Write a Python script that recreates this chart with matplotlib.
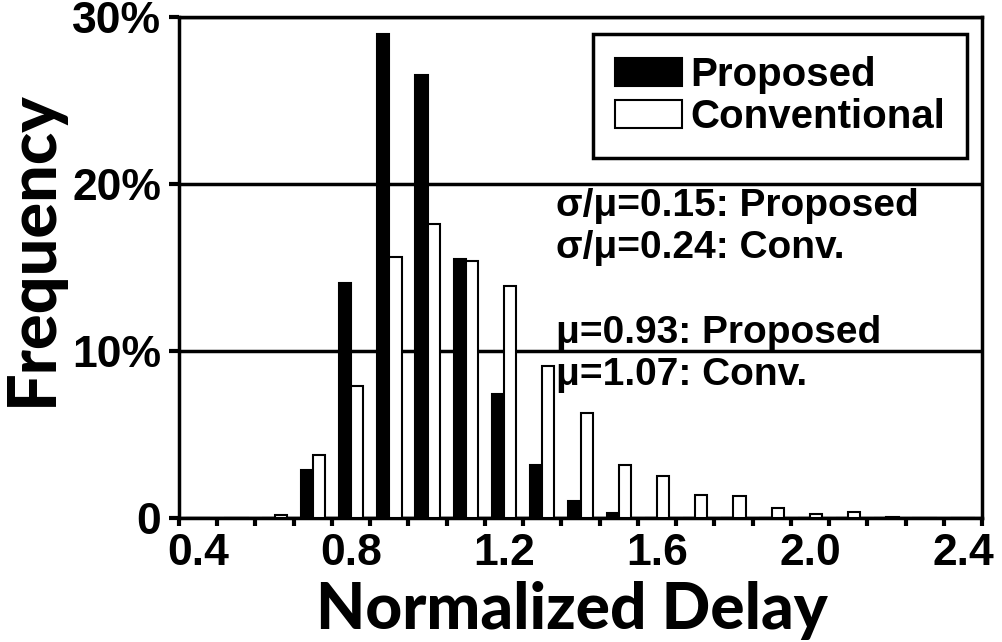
import matplotlib
matplotlib.use('Agg')
import matplotlib.pyplot as plt
import numpy as np

matplotlib.rcParams['font.family'] = ['Liberation Sans', 'DejaVu Sans']
matplotlib.rcParams['font.weight'] = 'bold'

# categories of normalized delay (Excel-style category axis)
delay = [0.4, 0.5, 0.6, 0.7, 0.8, 0.9, 1.0, 1.1, 1.2, 1.3, 1.4,
         1.5, 1.6, 1.7, 1.8, 1.9, 2.0, 2.1, 2.2, 2.3, 2.4]
proposed = [0, 0, 0, 2.9, 14.1, 29.0, 26.5, 15.5, 7.4, 3.2, 1.0,
            0.3, 0, 0, 0, 0, 0, 0, 0, 0, 0]
conventional = [0, 0, 0.2, 3.8, 7.9, 15.6, 17.6, 15.4, 13.9, 9.1, 6.3,
                3.2, 2.5, 1.4, 1.3, 0.6, 0.25, 0.35, 0.05, 0, 0]
xtick_labels = ['0.4', '0.8', '1.2', '1.6', '2.0', '2.4']
ytick_labels = ['0', '10%', '20%', '30%']

fig = plt.figure(figsize=(10.02, 6.42), dpi=100)
ax = fig.add_axes([179 / 1002, 1 - 518 / 642, 803 / 1002, 501 / 642])

x = np.arange(len(delay))
w = 0.32
ax.bar(x - w / 2, proposed, width=w, color='black', edgecolor='black',
       linewidth=1.5, label='Proposed', zorder=3)
ax.bar(x + w / 2, conventional, width=w, color='white', edgecolor='black',
       linewidth=1.5, label='Conventional', zorder=3)

ax.set_xlim(-0.5, len(delay) - 0.5)
ax.set_ylim(0, 30)
ax.set_yticks([0, 10, 20, 30])
ax.set_yticklabels(ytick_labels, fontsize=32, fontweight='bold')
ax.set_xticks(np.arange(-0.5, len(delay), 1), minor=True)
ax.set_xticks([delay.index(float(t)) for t in xtick_labels])
ax.set_xticklabels(xtick_labels, fontsize=32, fontweight='bold')
ax.tick_params(axis='x', which='major', length=0, pad=11)
ax.tick_params(axis='x', which='minor', length=6, width=3, direction='out')
ax.tick_params(axis='y', length=7, width=3, direction='out', pad=6)
ax.grid(axis='y', color='black', linewidth=2.5, zorder=1)
for s in ax.spines.values():
    s.set_linewidth(2.5)

fig.text(572 / 1002, 1 - 611 / 642, 'Normalized Delay', fontsize=46,
         fontweight='black', family=['Lato', 'DejaVu Sans'],
         ha='center', va='center')
fig.text(33 / 1002, 1 - 248 / 642, 'Frequency', fontsize=48,
         fontweight='black', family=['Lato', 'DejaVu Sans'],
         ha='center', va='center', rotation=90)

txt = dict(fontsize=28, fontweight='bold', ha='left', va='center',
           transform=ax.transAxes)
ax.text(0.469, 0.623, 'σ/μ=0.15: Proposed', **txt)
ax.text(0.469, 0.539, 'σ/μ=0.24: Conv.', **txt)
ax.text(0.469, 0.369, 'μ=0.93: Proposed', **txt)
ax.text(0.469, 0.285, 'μ=1.07: Conv.', **txt)

leg = ax.legend(loc='upper right', bbox_to_anchor=(967 / 1002, 1 - 34 / 642),
                bbox_transform=fig.transFigure, frameon=True, framealpha=1,
                fancybox=False, edgecolor='black', handlelength=1.65,
                handleheight=0.7, handletextpad=0.2, labelspacing=0.1,
                borderpad=0.55, borderaxespad=0,
                prop={'weight': 'bold', 'size': 29})
leg.get_frame().set_linewidth(2.5)
leg.set_zorder(5)

fig.savefig('out.png', dpi=100)
plt.close()
